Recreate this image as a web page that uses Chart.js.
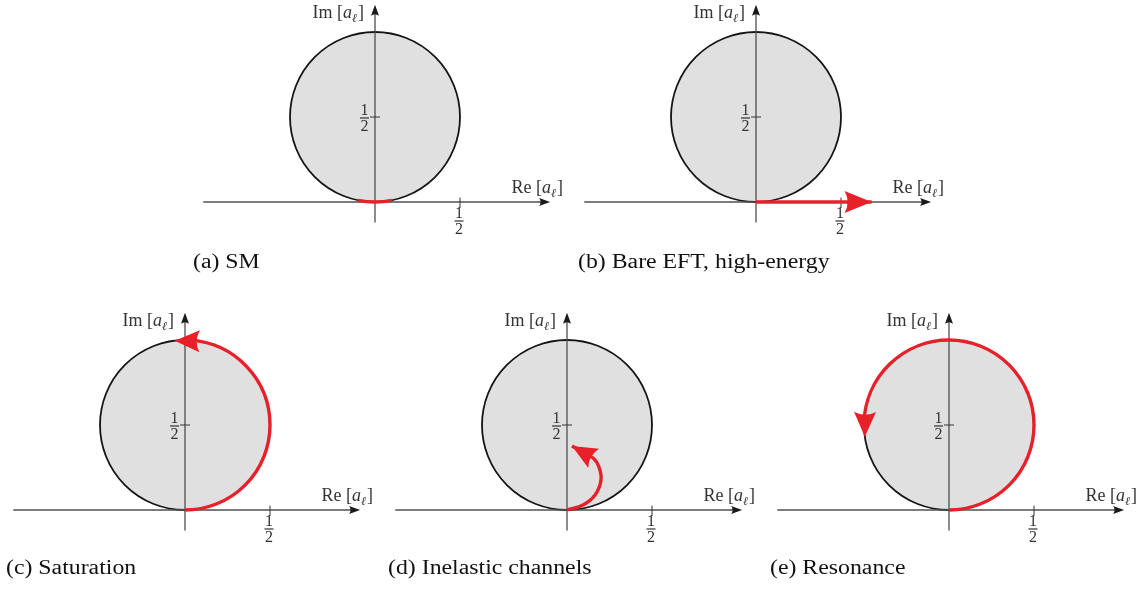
<!DOCTYPE html>
<html>
<head>
<meta charset="utf-8">
<script src="https://cdn.jsdelivr.net/npm/chart.js@4.4.1/dist/chart.umd.min.js"></script>
<style>
  html, body { margin: 0; padding: 0; background: #fff; }
  #wrap { position: relative; width: 1148px; height: 590px; overflow: hidden; background: #fff; }
  #wrap canvas { position: absolute; }
</style>
</head>
<body>
<div id="wrap"></div>
<script>
// ---- values ---------------------------------------------------------------
const captions = ['(a) SM', '(b) Bare EFT, high-energy', '(c) Saturation', '(d) Inelastic channels', '(e) Resonance'];

// unitarity circle |a_l - i/2| = 1/2
const circleCentre = [0, 0.5];
const circleRadius = 0.5;

// extent of the drawn Re / Im axes
const axisRe = [-1.01, 1.03];
const axisIm = [-0.12, 1.16];

// tick value and its label (numerator, denominator)
const tickValue = 0.5;
const tickFraction = ['1', '2'];

// axis titles
const reTitle = 'Re';
const imTitle = 'Im';
const ampSymbol = 'a';
const ampIndex = 'ℓ';

// trajectories on the circle: start / end angle in degrees, counter-clockwise from the Re axis
const arcSM = [258.5, 281.5];
const arcSaturation = [270, 457];
const arcResonance = [270, 548];

// bare EFT: straight growth along the real axis
const bareRe = [0, 0.68];
const bareIm = [0, 0];

// inelastic channels: path moving into the disc
const inelRe = [0, 0.094, 0.165, 0.2, 0.188, 0.153, 0.029];
const inelIm = [0, 0.029, 0.088, 0.176, 0.253, 0.306, 0.376];

// ---- layout -----------------------------------------------------------------
const PX = 170;                 // pixels per unit of a_l
const CW = 420, CH = 285;       // canvas size per panel
const OX = 200, OY = 205;       // origin position inside each canvas
const panelOrigin = [[375, 202], [756, 202], [185, 510], [567, 510], [949, 510]];
const captionLeft = [193, 578, 6, 388, 770];
const captionBaseline = [268, 268, 574, 574, 574];

const RED = '#e8202a';
const SERIF = '"Liberation Serif", "DejaVu Serif", "Times New Roman", serif';

const trajectories = [
  { kind: 'arc', deg: arcSM, arrow: false },
  { kind: 'line', re: bareRe, im: bareIm, arrow: true, tension: 0 },
  { kind: 'arc', deg: arcSaturation, arrow: true },
  { kind: 'line', re: inelRe, im: inelIm, arrow: true, tension: 0.4 },
  { kind: 'arc', deg: arcResonance, arrow: true }
];

// ---- drawing helpers --------------------------------------------------------
function arrowHead(ctx, tx, ty, dx, dy, len, half, notch, color) {
  const n = Math.hypot(dx, dy);
  const ux = dx / n, uy = dy / n;
  const px = -uy, py = ux;
  const bx = tx - ux * len, by = ty - uy * len;
  ctx.beginPath();
  ctx.moveTo(tx, ty);
  ctx.lineTo(bx + px * half, by + py * half);
  ctx.quadraticCurveTo(bx + ux * notch * 2, by + uy * notch * 2, bx - px * half, by - py * half);
  ctx.closePath();
  ctx.fillStyle = color;
  ctx.fill();
}

function axisTitle(ctx, prefix, x, baseline, align) {
  const parts = [
    { t: prefix + ' [', f: '18px ' + SERIF, dy: 0 },
    { t: ampSymbol, f: 'italic 18px ' + SERIF, dy: 0 },
    { t: ampIndex, f: 'italic 12px ' + SERIF, dy: 4 },
    { t: ']', f: '18px ' + SERIF, dy: 0 }
  ];
  let w = 0;
  parts.forEach(p => { ctx.font = p.f; p.w = ctx.measureText(p.t).width; w += p.w + (p.t === ']' ? 1 : 0); });
  let cx = align === 'right' ? x - w : x;
  ctx.fillStyle = '#333';
  ctx.textAlign = 'left';
  ctx.textBaseline = 'alphabetic';
  parts.forEach(p => {
    ctx.font = p.f;
    if (p.t === ']') cx += 1;
    ctx.fillText(p.t, cx, baseline + p.dy);
    cx += p.w;
  });
}

function fraction(ctx, cx, bar) {
  ctx.fillStyle = '#333';
  ctx.font = '16px ' + SERIF;
  ctx.textAlign = 'center';
  ctx.textBaseline = 'alphabetic';
  ctx.fillText(tickFraction[0], cx, bar - 3.5);
  ctx.fillText(tickFraction[1], cx, bar + 13);
  ctx.fillRect(cx - 4.5, bar - 0.6, 9, 1.2);
}

const argandPlugin = {
  id: 'argand',
  beforeDatasetsDraw(chart, args, opts) {
    const { ctx } = chart;
    const X = v => chart.scales.x.getPixelForValue(v);
    const Y = v => chart.scales.y.getPixelForValue(v);
    const x0 = X(0), y0 = Y(0);
    ctx.save();
    // disc
    const cx = X(circleCentre[0]), cy = Y(circleCentre[1]);
    const r = X(circleRadius) - X(0);
    ctx.beginPath();
    ctx.arc(cx, cy, r, 0, 2 * Math.PI);
    ctx.fillStyle = '#e0e0e0';
    ctx.fill();
    ctx.lineWidth = 1.8;
    ctx.strokeStyle = '#141414';
    ctx.stroke();
    // axes
    ctx.strokeStyle = '#505050';
    ctx.lineWidth = 1.3;
    ctx.beginPath();
    ctx.moveTo(X(axisRe[0]), y0); ctx.lineTo(X(axisRe[1]) - 5, y0);
    ctx.moveTo(x0, Y(axisIm[0])); ctx.lineTo(x0, Y(axisIm[1]) + 5);
    ctx.stroke();
    arrowHead(ctx, X(axisRe[1]), y0, 1, 0, 11, 4, 1.5, '#1a1a1a');
    arrowHead(ctx, x0, Y(axisIm[1]), 0, -1, 11, 4, 1.5, '#1a1a1a');
    // ticks at 1/2
    const tx = X(tickValue), ty = Y(tickValue);
    ctx.strokeStyle = '#333';
    ctx.lineWidth = 1;
    ctx.beginPath();
    ctx.moveTo(tx, y0 - 4.5); ctx.lineTo(tx, y0 + 6);
    ctx.moveTo(x0 - 5, ty); ctx.lineTo(x0 + 5, ty);
    ctx.stroke();
    fraction(ctx, tx - 1, y0 + 19);
    fraction(ctx, x0 - 10.5, ty + 1);
    // axis titles
    axisTitle(ctx, imTitle, x0 - 11, Y(axisIm[1]) + 13, 'right');
    axisTitle(ctx, reTitle, X(axisRe[1]) + 13, y0 - 9, 'right');
    ctx.restore();
  },
  afterDatasetsDraw(chart, args, opts) {
    const { ctx } = chart;
    const X = v => chart.scales.x.getPixelForValue(v);
    const Y = v => chart.scales.y.getPixelForValue(v);
    const tr = trajectories[opts.panel];
    const L = 25, H = 11;
    ctx.save();
    if (tr.kind === 'arc') {
      const cx = X(circleCentre[0]), cy = Y(circleCentre[1]);
      const r = X(circleRadius) - X(0);
      const a0 = tr.deg[0] * Math.PI / 180, a1 = tr.deg[1] * Math.PI / 180;
      const stop = tr.arrow ? a1 - 0.6 * L / r : a1;
      ctx.beginPath();
      ctx.arc(cx, cy, r, -a0, -stop, true);
      ctx.strokeStyle = RED;
      ctx.lineWidth = 3.4;
      ctx.lineCap = 'butt';
      ctx.stroke();
      if (tr.arrow) {
        const tipX = cx + r * Math.cos(a1), tipY = cy - r * Math.sin(a1);
        const ab = a1 - L / r;
        const bX = cx + r * Math.cos(ab), bY = cy - r * Math.sin(ab);
        arrowHead(ctx, tipX, tipY, tipX - bX, tipY - bY, L, H, 3, RED);
      }
    } else if (tr.arrow) {
      const n = tr.re.length;
      const tipX = X(tr.re[n - 1]), tipY = Y(tr.im[n - 1]);
      const pX = X(tr.re[n - 2]), pY = Y(tr.im[n - 2]);
      arrowHead(ctx, tipX, tipY, tipX - pX, tipY - pY, L + (opts.panel === 1 ? 2 : 0), H, 3, RED);
    }
    ctx.restore();
  },
  afterDraw(chart, args, opts) {
    const { ctx } = chart;
    const i = opts.panel;
    const o = panelOrigin[i];
    // caption, set in a slightly wide Roman face
    ctx.save();
    ctx.translate(captionLeft[i] - (o[0] - OX), captionBaseline[i] - (o[1] - OY));
    ctx.scale(1.19, 1);
    ctx.font = '20px ' + SERIF;
    ctx.fillStyle = '#111';
    ctx.textAlign = 'left';
    ctx.textBaseline = 'alphabetic';
    ctx.fillText(captions[i], 0, 0);
    ctx.restore();
  }
};

// ---- build the five panels ---------------------------------------------------
const wrap = document.getElementById('wrap');
panelOrigin.forEach((o, i) => {
  const canvas = document.createElement('canvas');
  canvas.width = CW;
  canvas.height = CH;
  canvas.style.left = (o[0] - OX) + 'px';
  canvas.style.top = (o[1] - OY) + 'px';
  canvas.style.width = CW + 'px';
  canvas.style.height = CH + 'px';
  wrap.appendChild(canvas);

  const tr = trajectories[i];
  const datasets = [];
  if (tr.kind === 'line') {
    datasets.push({
      data: tr.re.map((v, k) => ({ x: v, y: tr.im[k] })),
      showLine: true,
      borderColor: RED,
      borderWidth: 3.4,
      pointRadius: 0,
      fill: false,
      tension: tr.tension,
      borderCapStyle: 'butt'
    });
  }

  new Chart(canvas, {
    type: 'scatter',
    data: { datasets },
    options: {
      responsive: false,
      animation: false,
      events: [],
      layout: { padding: 0 },
      plugins: {
        legend: { display: false },
        tooltip: { enabled: false },
        argand: { panel: i }
      },
      scales: {
        x: { type: 'linear', min: -OX / PX, max: (CW - OX) / PX, display: false },
        y: { type: 'linear', min: -(CH - OY) / PX, max: OY / PX, display: false }
      }
    },
    plugins: [argandPlugin]
  });
});
</script>
</body>
</html>
